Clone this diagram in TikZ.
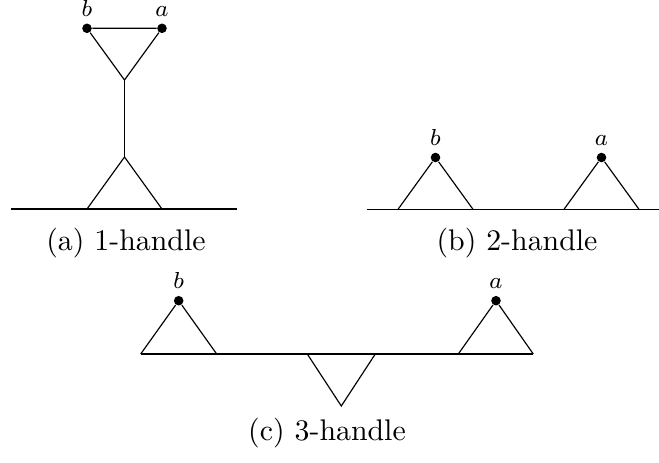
\documentclass[tikz,border=0pt]{standalone}
\begin{document}
\begin{tikzpicture}[x=0.345pt,y=-0.345pt,
  edge/.style={line width=0.4pt},
  dotpt/.style={circle,fill=black,inner sep=0pt,minimum size=3.3pt},
  lbl/.style={font=\footnotesize,inner sep=0pt,anchor=base},
  captxt/.style={font=\fontsize{10.3}{12.4}\selectfont,inner sep=0pt,anchor=base}]
\useasboundingbox (0,0) rectangle (659,462);
% (a) 1-handle
\node[dotpt] (ab) at (87,28.3) {};
\node[dotpt] (aa) at (162,28.3) {};
\node[lbl] (abl) at (87,16.5) {$b$};
\node[lbl] (aal) at (162,16.5) {$a$};
\coordinate (atop) at (124.5,80);
\coordinate (abot) at (124.5,157);
\coordinate (al) at (87,209);
\coordinate (ar) at (162,209);
\coordinate (a0) at (11,209);
\coordinate (a1) at (237,209);
\draw[edge] (ab) -- (aa) -- (atop) -- (ab);
\draw[edge] (atop) -- (abot);
\draw[edge] (al) -- (abot) -- (ar);
\draw[edge] (a0) -- (a1);
\node[captxt] (acap) at (126,250) {(a) 1-handle};
% (b) 2-handle
\node[dotpt] (bb) at (435.5,157.5) {};
\node[dotpt] (ba) at (601.5,157.5) {};
\node[lbl] (bbl) at (435.5,145.7) {$b$};
\node[lbl] (bal) at (601.5,145.7) {$a$};
\coordinate (b0) at (367,209.3);
\coordinate (b1) at (659,209.3);
\coordinate (bl1) at (398,209.3);
\coordinate (br1) at (473,209.3);
\coordinate (bl2) at (564,209.3);
\coordinate (br2) at (639,209.3);
\draw[edge] (b0) -- (b1);
\draw[edge] (bl1) -- (bb) -- (br1);
\draw[edge] (bl2) -- (ba) -- (br2);
\node[captxt] (bcap) at (517,250) {(b) 2-handle};
% (c) 3-handle
\node[dotpt] (cb) at (178.7,300.7) {};
\node[dotpt] (ca) at (496,300.7) {};
\node[lbl] (cbl) at (178.7,288.9) {$b$};
\node[lbl] (cal) at (496,288.9) {$a$};
\coordinate (c0) at (140.7,354);
\coordinate (c1) at (533.3,354);
\coordinate (cr1) at (216.7,354);
\coordinate (cd1) at (307.3,354);
\coordinate (cd2) at (375.3,354);
\coordinate (cdown) at (341.3,406);
\coordinate (cl2) at (458.3,354);
\draw[edge] (c0) -- (cb) -- (cr1);
\draw[edge] (cl2) -- (ca) -- (c1);
\draw[edge] (c0) -- (c1);
\draw[edge] (cd1) -- (cdown) -- (cd2);
\node[captxt] (ccap) at (327,440) {(c) 3-handle};
\end{tikzpicture}
\end{document}
